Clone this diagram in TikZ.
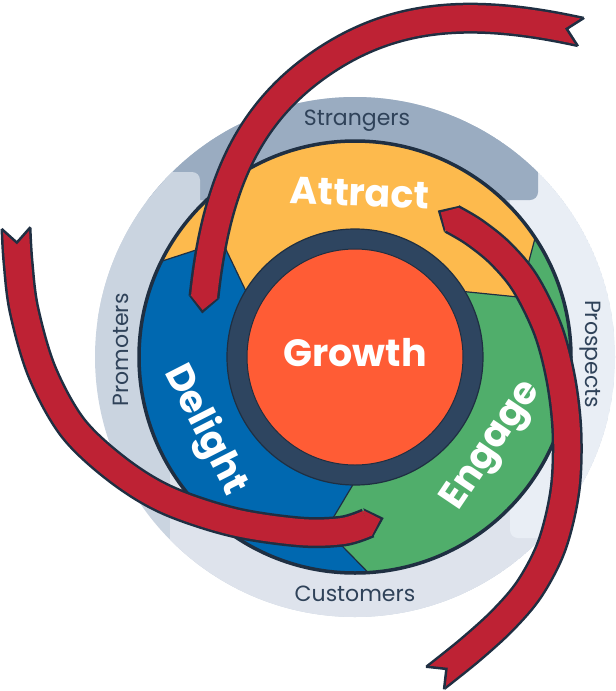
\documentclass[tikz,border=0pt]{standalone}
\usepackage{fontspec}
\setmainfont{Poppins}
\usetikzlibrary{calc}
\definecolor{cStr}{HTML}{9AACC1}
\definecolor{cPro}{HTML}{CAD4E0}
\definecolor{cCus}{HTML}{DEE3EC}
\definecolor{cPsp}{HTML}{E9EEF5}
\definecolor{cOutl}{HTML}{1F2F42}
\definecolor{cAttr}{HTML}{FDBA4D}
\definecolor{cEng}{HTML}{50AE6B}
\definecolor{cDlt}{HTML}{0068B0}
\definecolor{cRing}{HTML}{2E4560}
\definecolor{cHub}{HTML}{FF5C35}
\definecolor{cArr}{HTML}{BE2234}
\definecolor{cLbl}{HTML}{2F4259}
\tikzset{
  bandlbl/.style={text=cLbl, font=\fontsize{22}{22}\selectfont, inner sep=0pt},
  biglbl/.style={text=white, font=\bfseries\fontsize{38}{38}\selectfont, inner sep=0pt},
  arrout/.style={draw=cOutl, line width=31pt, line cap=butt},
  arrin/.style={draw=cArr, line width=26pt, line cap=butt},
  segline/.style={draw=cOutl, line width=1.2pt, line join=round},
}
\newcommand{\redband}[1]{%
  \draw[arrout] plot[smooth, tension=0.55] coordinates {#1};
  \draw[arrin] plot[smooth, tension=0.55] coordinates {#1};}
\newcommand{\redpath}[1]{%
  \draw[arrout] #1;
  \draw[arrin] #1;}
\newcommand{\headat}[2]{%
  \fill[cOutl] let \p1=($(#1)-(#2)$), \n1={atan2(\y1,\x1)} in
    ($(#1)+(\n1+90:15.5pt)$) -- ($(#1)+(\n1:16.5pt)$) -- ($(#1)+(\n1-90:15.5pt)$) -- cycle;
  \fill[cArr] let \p1=($(#1)-(#2)$), \n1={atan2(\y1,\x1)} in
    ($(#1)+(\n1+90:13pt)+(\n1:-1pt)$) -- ($(#1)+(\n1+90:13pt)$) -- ($(#1)+(\n1:13pt)$) -- ($(#1)+(\n1-90:13pt)$) -- ($(#1)+(\n1-90:13pt)+(\n1:-1pt)$) -- cycle;}
\newcommand{\tailat}[2]{%
  \fill[white] let \p1=($(#2)-(#1)$), \n1={atan2(\y1,\x1)} in
    ($(#1)+(\n1+90:16pt)+(\n1:-2pt)$) -- ($(#1)+(\n1+90:16pt)$) -- ($(#1)+(\n1:13pt)$) -- ($(#1)+(\n1-90:16pt)$) -- ($(#1)+(\n1-90:16pt)+(\n1:-2pt)$) -- cycle;
  \draw[cOutl, line width=2.5pt, line join=miter] let \p1=($(#2)-(#1)$), \n1={atan2(\y1,\x1)} in
    ($(#1)+(\n1+90:14.5pt)$) -- ($(#1)+(\n1:14.6pt)$) -- ($(#1)+(\n1-90:14.5pt)$);}
\begin{document}
\begin{tikzpicture}[x=1pt,y=-1pt]
\useasboundingbox (0,0) rectangle (616,691);
\coordinate (C) at (355,357);
% background bands
\begin{scope}
  \clip (C) circle[radius=260];
  \fill[cPro] (C) circle[radius=260];
  \fill[cCus, rounded corners=8pt] (170,420) rectangle (640,640);
  \fill[cPsp, rounded corners=8pt] (510,150) rectangle (640,538);
  \fill[cStr, rounded corners=8pt] (80,60) rectangle (538,200);
  \fill[cPro, rounded corners=8pt] (80,172) rectangle (200,320);
\end{scope}
\node[bandlbl] (strangers) at (357,121) {Strangers};
\node[bandlbl] (customers) at (355,594) {Customers};
\node[bandlbl, rotate=90] (promoters) at (121,350) {Promoters};
\node[bandlbl, rotate=-90] (prospects) at (590,354) {Prospects};
% flywheel ring
\fill[cAttr] (C) circle[radius=216];
\fill[cEng] ($(C)+(-33.5:216)$) arc[start angle=-33.5, end angle=86.5, radius=216]
  -- ($(C)+(99.5:175)$) -- ($(C)+(91:128)$) arc[start angle=91, end angle=-30.7, radius=128]
  -- ($(C)+(-20:175)$) -- cycle;
\fill[cDlt] ($(C)+(86.5:216)$) arc[start angle=86.5, end angle=206.3, radius=216]
  -- ($(C)+(221:176)$) -- ($(C)+(211.3:128)$) arc[start angle=211.3, end angle=91, radius=128]
  -- ($(C)+(99.5:175)$) -- cycle;
\draw[segline] ($(C)+(-33.5:216)$) -- ($(C)+(-20:175)$) -- ($(C)+(-30.7:128)$);
\draw[segline] ($(C)+(86.5:216)$) -- ($(C)+(99.5:175)$) -- ($(C)+(91:128)$);
\draw[segline] ($(C)+(206.3:216)$) -- ($(C)+(221:176)$) -- ($(C)+(211.3:128)$);
\draw[cOutl, line width=3.5pt] (C) circle[radius=216];
% growth hub
\fill[cRing] (C) circle[radius=128];
\draw[cOutl, line width=1.2pt] (C) circle[radius=128];
\fill[cHub] (C) circle[radius=108];
\draw[cOutl, line width=1pt] (C) circle[radius=108];
\node[biglbl] (growth) at (355,353) {Growth};
\node[biglbl, rotate=-2] (attract) at (360,193) {Attract};
\node[biglbl, rotate=56] (engage) at (493,446) {Engage};
\node[biglbl, rotate=-63] (delight) at (205,430) {Delight};
% red arrows
\coordinate (a1s) at (581,32); \coordinate (a1c1) at (473.6,8.4);
\coordinate (a1c2) at (397,13.3); \coordinate (a1m) at (326,60);
\coordinate (a1c3) at (246.6,112.2); \coordinate (a1c4) at (215.7,187.7);
\coordinate (a1e) at (204,297);
\redpath{(a1s) .. controls (a1c1) and (a1c2) .. (a1m) .. controls (a1c3) and (a1c4) .. (a1e)}
\headat{a1e}{a1c4}
\tailat{a1s}{a1c1}
\coordinate (a2s) at (16,228); \coordinate (a2n) at (18,262);
\coordinate (a2p) at (343,531); \coordinate (a2e) at (368,523);
\redband{(a2s) (a2n) (24,310) (42,372) (73,428) (118,470) (167,500) (233,522) (300,532) (a2p) (a2e)}
\headat{a2e}{a2p}
\tailat{a2s}{a2n}
\coordinate (a3s) at (435,678); \coordinate (a3n) at (470,650);
\coordinate (a3p) at (474,232); \coordinate (a3e) at (452,219);
\redband{(a3s) (a3n) (503,620) (530,588) (552,545) (565,490) (567,433) (561,380) (548,330) (525,283) (500,253) (a3p) (a3e)}
\headat{a3e}{a3p}
\tailat{a3s}{a3n}
\end{tikzpicture}
\end{document}
